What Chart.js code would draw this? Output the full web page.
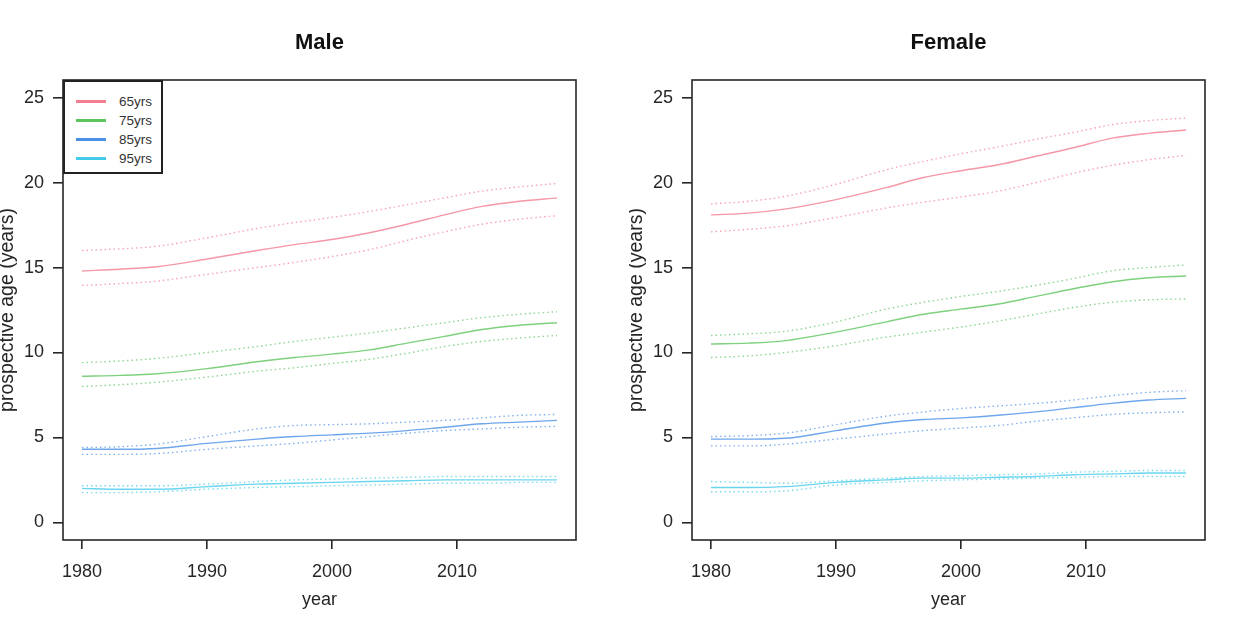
<!DOCTYPE html>
<html>
<head>
<meta charset="utf-8">
<script src="https://cdn.jsdelivr.net/npm/chart.js@4.4.1/dist/chart.umd.min.js"></script>
<style>
  body { margin: 0; background: #fff; font-family: "Liberation Sans", Arial, sans-serif; }
  #page { position: relative; width: 1242px; height: 621px; overflow: hidden; }
  .panel { position: absolute; top: 0; width: 621px; height: 621px; }
  .legend {
    position: absolute; left: 63px; top: 80px; width: 100px; height: 94px;
    border: 2px solid #222; background: #fff; box-sizing: border-box;
    padding-top: 10px; font-size: 13.5px; color: #333;
  }
  .legend .row { height: 19px; display: flex; align-items: center; }
  .legend .swatch { width: 30px; height: 3px; margin-left: 11px; margin-right: 13px; }
</style>
</head>
<body>
<div id="page">
  <div class="panel" style="left:0"><canvas id="maleChart"></canvas><div class="legend" id="legendBox"></div></div>
  <div class="panel" style="left:629px"><canvas id="femaleChart"></canvas></div>
</div>
<script>
const years = [1980, 1983, 1986, 1990, 1994, 1997, 2000, 2003, 2006, 2009, 2012, 2015, 2018];
const ageLabels = ['65yrs', '75yrs', '85yrs', '95yrs'];
const ageColors = ['#F27D8E', '#5CC65C', '#4A90E6', '#45CBEA'];
const xTicks = [1980, 1990, 2000, 2010];
const yTicks = [0, 5, 10, 15, 20, 25];

// Male: central estimate, upper and lower bound per age
const male65 = [14.8, 14.9, 15.05, 15.5, 16.0, 16.35, 16.65, 17.05, 17.55, 18.1, 18.6, 18.9, 19.1];
const male65Hi = [16.0, 16.1, 16.25, 16.75, 17.3, 17.65, 17.95, 18.3, 18.7, 19.1, 19.5, 19.75, 19.95];
const male65Lo = [13.95, 14.05, 14.2, 14.6, 15.0, 15.3, 15.65, 16.05, 16.6, 17.1, 17.55, 17.85, 18.05];
const male75 = [8.6, 8.65, 8.75, 9.05, 9.45, 9.7, 9.9, 10.15, 10.55, 10.95, 11.35, 11.6, 11.75];
const male75Hi = [9.4, 9.5, 9.65, 10.0, 10.35, 10.65, 10.9, 11.15, 11.45, 11.75, 12.05, 12.25, 12.4];
const male75Lo = [8.0, 8.1, 8.25, 8.55, 8.9, 9.1, 9.35, 9.6, 9.95, 10.35, 10.65, 10.85, 11.0];
const male85 = [4.3, 4.3, 4.35, 4.65, 4.9, 5.05, 5.15, 5.25, 5.4, 5.6, 5.8, 5.9, 6.0];
const male85Hi = [4.4, 4.45, 4.6, 5.05, 5.5, 5.7, 5.75, 5.8, 5.9, 6.0, 6.15, 6.3, 6.35];
const male85Lo = [4.0, 4.0, 4.05, 4.3, 4.5, 4.65, 4.85, 5.05, 5.25, 5.4, 5.5, 5.6, 5.65];
const male95 = [2.0, 1.95, 1.95, 2.1, 2.25, 2.3, 2.35, 2.4, 2.45, 2.5, 2.5, 2.5, 2.5];
const male95Hi = [2.15, 2.15, 2.15, 2.25, 2.4, 2.5, 2.55, 2.6, 2.65, 2.7, 2.7, 2.7, 2.7];
const male95Lo = [1.75, 1.75, 1.8, 1.95, 2.05, 2.1, 2.15, 2.2, 2.25, 2.3, 2.3, 2.35, 2.35];

// Female
const female65 = [18.1, 18.2, 18.45, 19.0, 19.7, 20.3, 20.7, 21.05, 21.55, 22.05, 22.6, 22.9, 23.1];
const female65Hi = [18.75, 18.9, 19.2, 19.9, 20.75, 21.25, 21.7, 22.1, 22.55, 22.95, 23.4, 23.65, 23.8];
const female65Lo = [17.1, 17.25, 17.45, 17.95, 18.5, 18.85, 19.15, 19.5, 20.0, 20.55, 21.0, 21.35, 21.6];
const female75 = [10.5, 10.55, 10.7, 11.2, 11.8, 12.25, 12.55, 12.85, 13.3, 13.75, 14.15, 14.4, 14.5];
const female75Hi = [11.0, 11.1, 11.25, 11.8, 12.55, 12.95, 13.3, 13.6, 13.95, 14.35, 14.8, 15.0, 15.15];
const female75Lo = [9.7, 9.8, 10.0, 10.4, 10.9, 11.2, 11.5, 11.85, 12.25, 12.65, 12.95, 13.1, 13.15];
const female85 = [4.9, 4.9, 4.95, 5.4, 5.85, 6.05, 6.15, 6.3, 6.5, 6.75, 7.0, 7.2, 7.3];
const female85Hi = [5.05, 5.1, 5.25, 5.75, 6.25, 6.5, 6.7, 6.85, 7.0, 7.2, 7.45, 7.65, 7.75];
const female85Lo = [4.5, 4.5, 4.6, 4.9, 5.2, 5.4, 5.55, 5.7, 5.95, 6.15, 6.35, 6.45, 6.5];
const female95 = [2.05, 2.05, 2.1, 2.35, 2.5, 2.6, 2.6, 2.65, 2.7, 2.8, 2.85, 2.9, 2.9];
const female95Hi = [2.4, 2.35, 2.3, 2.45, 2.6, 2.7, 2.75, 2.8, 2.85, 2.95, 3.0, 3.05, 3.05];
const female95Lo = [1.8, 1.8, 1.85, 2.2, 2.35, 2.45, 2.5, 2.55, 2.6, 2.65, 2.7, 2.7, 2.7];

const FONT = '"Liberation Sans", Arial, sans-serif';
const INK = '#262626';

function toPoints(values) {
  return values.map((v, i) => ({ x: years[i], y: v }));
}

// plot lines are paler than the legend swatches
function fade(hex, alpha) {
  const n = parseInt(hex.slice(1), 16);
  return `rgba(${n >> 16}, ${(n >> 8) & 255}, ${n & 255}, ${alpha})`;
}

function buildDatasets(groups) {
  const sets = [];
  groups.forEach((g, i) => {
    const line = fade(ageColors[i], 0.8);
    const dots = fade(ageColors[i], 0.7);
    sets.push({ label: ageLabels[i], data: toPoints(g[0]), borderColor: line, borderWidth: 1.4 });
    sets.push({ label: ageLabels[i] + ' hi', data: toPoints(g[1]), borderColor: dots, borderWidth: 1.4, borderDash: [1.5, 3] });
    sets.push({ label: ageLabels[i] + ' lo', data: toPoints(g[2]), borderColor: dots, borderWidth: 1.4, borderDash: [1.5, 3] });
  });
  sets.forEach(s => {
    s.pointRadius = 0;
    s.fill = false;
    s.cubicInterpolationMode = 'monotone';
  });
  return sets;
}

// Box around the plot area and the panel title
const framePlugin = {
  id: 'frame',
  afterDraw(chart, args, opts) {
    const { ctx, chartArea: a } = chart;
    ctx.save();
    ctx.strokeStyle = INK;
    ctx.lineWidth = 1.6;
    ctx.strokeRect(a.left, a.top, a.right - a.left, a.bottom - a.top);
    ctx.fillStyle = '#111';
    ctx.font = 'bold 22px ' + FONT;
    ctx.textAlign = 'center';
    ctx.textBaseline = 'middle';
    ctx.fillText(opts.title, (a.left + a.right) / 2, 43);
    ctx.restore();
  }
};

function drawPanel(canvasId, title, groups) {
  const ctx = document.getElementById(canvasId).getContext('2d');
  return new Chart(ctx, {
    type: 'line',
    data: { datasets: buildDatasets(groups) },
    plugins: [framePlugin],
    options: {
      responsive: true,
      maintainAspectRatio: false,
      animation: false,
      layout: { padding: { left: 0, right: 45, top: 80, bottom: 0 } },
      plugins: {
        legend: { display: false },
        tooltip: { enabled: false },
        frame: { title: title }
      },
      scales: {
        x: {
          type: 'linear',
          min: 1978.48,
          max: 2019.52,
          afterBuildTicks: axis => { axis.ticks = xTicks.map(v => ({ value: v })); },
          afterFit: axis => { axis.height = 81; },
          border: { display: false },
          grid: { drawOnChartArea: false, drawTicks: true, tickLength: 9, color: INK, lineWidth: 1.6 },
          ticks: { callback: v => String(v), color: INK, padding: 12, maxRotation: 0, font: { family: FONT, size: 18 } },
          title: { display: true, text: 'year', color: INK, padding: { top: 0, bottom: 10 }, font: { family: FONT, size: 18 } }
        },
        y: {
          min: -1.04,
          max: 26.04,
          afterBuildTicks: axis => { axis.ticks = yTicks.map(v => ({ value: v })); },
          afterFit: axis => { axis.width = 63; },
          border: { display: false },
          grid: { drawOnChartArea: false, drawTicks: true, tickLength: 10, color: INK, lineWidth: 1.6 },
          ticks: { color: INK, padding: 9, font: { family: FONT, size: 18 } },
          title: { display: true, text: 'prospective age (years)', color: INK, padding: { top: -4, bottom: 0 }, font: { family: FONT, size: 19.5 } }
        }
      }
    }
  });
}

// HTML legend in the top-left corner of the Male panel
function buildLegend() {
  const box = document.getElementById('legendBox');
  ageLabels.forEach((label, i) => {
    const row = document.createElement('div');
    row.className = 'row';
    row.innerHTML = `<span class="swatch" style="background:${ageColors[i]}"></span><span>${label}</span>`;
    box.appendChild(row);
  });
}

document.addEventListener('DOMContentLoaded', function() {
  drawPanel('maleChart', 'Male', [
    [male65, male65Hi, male65Lo],
    [male75, male75Hi, male75Lo],
    [male85, male85Hi, male85Lo],
    [male95, male95Hi, male95Lo]
  ]);
  drawPanel('femaleChart', 'Female', [
    [female65, female65Hi, female65Lo],
    [female75, female75Hi, female75Lo],
    [female85, female85Hi, female85Lo],
    [female95, female95Hi, female95Lo]
  ]);
  buildLegend();
});
</script>
</body>
</html>
